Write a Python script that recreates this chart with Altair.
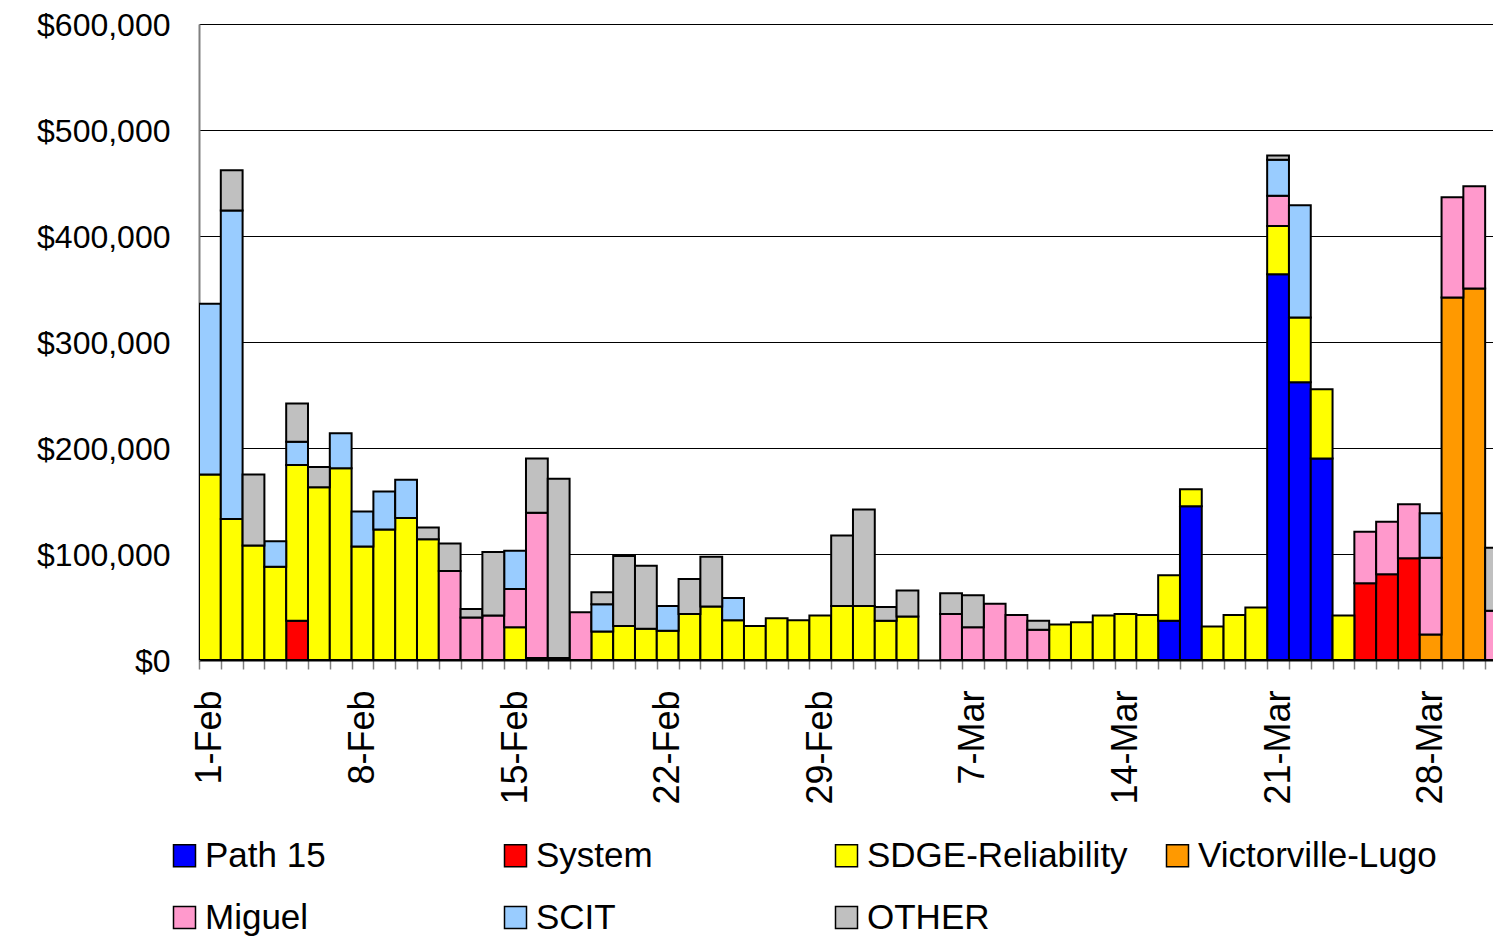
import json
import altair as alt
import pandas as pd

# ---- categories (days) ----
days = [
    "1-Feb", "2-Feb", "3-Feb", "4-Feb", "5-Feb", "6-Feb", "7-Feb", "8-Feb", "9-Feb", "10-Feb",
    "11-Feb", "12-Feb", "13-Feb", "14-Feb", "15-Feb", "16-Feb", "17-Feb", "18-Feb", "19-Feb", "20-Feb",
    "21-Feb", "22-Feb", "23-Feb", "24-Feb", "25-Feb", "26-Feb", "27-Feb", "28-Feb", "29-Feb", "1-Mar",
    "2-Mar", "3-Mar", "4-Mar", "5-Mar", "6-Mar", "7-Mar", "8-Mar", "9-Mar", "10-Mar", "11-Mar",
    "12-Mar", "13-Mar", "14-Mar", "15-Mar", "16-Mar", "17-Mar", "18-Mar", "19-Mar", "20-Mar", "21-Mar",
    "22-Mar", "23-Mar", "24-Mar", "25-Mar", "26-Mar", "27-Mar", "28-Mar", "29-Mar", "30-Mar", "31-Mar",
]
tick_labels = ["1-Feb", "8-Feb", "15-Feb", "22-Feb", "29-Feb", "7-Mar", "14-Mar", "21-Mar", "28-Mar"]

series_names = ["Path 15", "System", "SDGE-Reliability", "Victorville-Lugo", "Miguel", "SCIT", "OTHER"]
series_colors = ["#0000FF", "#FF0000", "#FFFF00", "#FF9900", "#FF99CC", "#99CCFF", "#C0C0C0"]

# ---- values, in $ thousands, one entry per day ----
path15 = [0, 0, 0, 0, 0, 0, 0, 0, 0, 0,
          0, 0, 0, 0, 0, 0, 0, 0, 0, 0,
          0, 0, 0, 0, 0, 0, 0, 0, 0, 0,
          0, 0, 0, 0, 0, 0, 0, 0, 0, 0,
          0, 0, 0, 0, 37, 145, 0, 0, 0, 364,
          262, 190, 0, 0, 0, 0, 0, 0, 0, 0]
system = [0, 0, 0, 0, 37, 0, 0, 0, 0, 0,
          0, 0, 0, 0, 0, 2, 2, 0, 0, 0,
          0, 0, 0, 0, 0, 0, 0, 0, 0, 0,
          0, 0, 0, 0, 0, 0, 0, 0, 0, 0,
          0, 0, 0, 0, 0, 0, 0, 0, 0, 0,
          0, 0, 0, 72.5, 81, 96, 0, 0, 0, 0]
sdge = [175, 133, 108, 88, 147, 163, 181, 107, 123, 134,
        114, 0, 0, 0, 31, 0, 0, 0, 27, 32,
        29.5, 27.5, 43.5, 50.5, 37.5, 32, 39.5, 37.5, 42, 51,
        51, 37, 41, 0, 0, 0, 0, 0, 0, 33.5,
        35.5, 42, 43.5, 42.5, 43, 16, 31.5, 42.5, 49.5, 45.5,
        61, 65.5, 42, 0, 0, 0, 0, 0, 0, 0]
victorville = [0, 0, 0, 0, 0, 0, 0, 0, 0, 0,
               0, 0, 0, 0, 0, 0, 0, 0, 0, 0,
               0, 0, 0, 0, 0, 0, 0, 0, 0, 0,
               0, 0, 0, 0, 0, 0, 0, 0, 0, 0,
               0, 0, 0, 0, 0, 0, 0, 0, 0, 0,
               0, 0, 0, 0, 0, 0, 24, 342, 350.5, 0]
miguel = [0, 0, 0, 0, 0, 0, 0, 0, 0, 0,
          0, 84, 40, 42, 36, 137, 0, 45, 0, 0,
          0, 0, 0, 0, 0, 0, 0, 0, 0, 0,
          0, 0, 0, 0, 43.5, 31, 53, 42.5, 28.5, 0,
          0, 0, 0, 0, 0, 0, 0, 0, 0, 28.5,
          0, 0, 0, 48.5, 49.5, 51, 72.5, 94.5, 96.5, 46.5]
scit = [161, 291, 0, 24, 22, 0, 33, 33, 36, 36,
        0, 0, 0, 0, 36, 0, 0, 0, 25.5, 0,
        0, 23.5, 0, 0, 21, 0, 0, 0, 0, 0,
        0, 0, 0, 0, 0, 0, 0, 0, 0, 0,
        0, 0, 0, 0, 0, 0, 0, 0, 0, 34,
        106, 0, 0, 0, 0, 0, 42, 0, 0, 0]
other = [0, 38, 67, 0, 36, 19, 0, 0, 0, 0,
         11, 26, 8, 60, 0, 51, 169, 0, 11.5, 66,
         59.5, 0, 33, 47, 0, 0, 0, 0, 0, 66.5,
         91, 13, 24.5, 0, 19.5, 30, 0, 0, 8.5, 0,
         0, 0, 0, 0, 0, 0, 0, 0, 0, 4,
         0, 0, 0, 0, 0, 0, 0, 0, 0, 59.5]

series_values = [path15, system, sdge, victorville, miguel, scit, other]

rows = []
for rank, (name, vals) in enumerate(zip(series_names, series_values)):
    for i, (d, v) in enumerate(zip(days, vals)):
        rows.append({"idx": i, "day": d, "series": name, "rank": rank, "value": v * 1000})
df = pd.DataFrame(rows)

# label lookup for the x axis (ticks sit on day boundaries)
shown = [d if d in tick_labels else "" for d in days]
label_expr = json.dumps(shown) + "[round(datum.value + 0.5)]"
tick_values = [i - 0.5 for i in range(len(days))]

FONT = "Liberation Sans"

chart = (
    alt.Chart(df)
    .transform_filter("datum.value > 0")
    .transform_stack(
        stack="value",
        as_=["v0", "v1"],
        groupby=["idx"],
        sort=[alt.SortField("rank", order="ascending")],
        offset="zero",
    )
    .transform_calculate(x0="datum.idx - 0.5", x1="datum.idx + 0.5")
    .mark_bar(clip=True, stroke="black", strokeWidth=2)
    .encode(
        x=alt.X(
            "x0:Q",
            scale=alt.Scale(domain=[-0.5, 58.86], nice=False, zero=False),
            axis=alt.Axis(
                values=tick_values,
                labelExpr=label_expr,
                labelAngle=270,
                labelAlign="right",
                labelBaseline="middle",
                labelOffset=10.9,
                labelFlush=False,
                labelOverlap=False,
                labelFontSize=36,
                labelFont=FONT,
                labelColor="black",
                labelPadding=21,
                tickSize=9,
                tickColor="#808080",
                tickWidth=1.5,
                domainColor="black",
                domainWidth=2,
                grid=False,
                title=None,
            ),
        ),
        x2="x1:Q",
        y=alt.Y(
            "v0:Q",
            scale=alt.Scale(domain=[0, 600000], nice=False),
            axis=alt.Axis(
                values=[0, 100000, 200000, 300000, 400000, 500000, 600000],
                format="$,.0f",
                labelFontSize=32,
                labelFont=FONT,
                labelColor="black",
                labelPadding=29,
                labelOffset=1.5,
                ticks=False,
                domainColor="#808080",
                domainWidth=2,
                grid=True,
                gridColor="black",
                gridWidth=1,
                title=None,
            ),
        ),
        y2="v1:Q",
        color=alt.Color(
            "series:N",
            scale=alt.Scale(domain=series_names, range=series_colors),
            legend=alt.Legend(
                title=None,
                orient="none",
                legendX=-32,
                legendY=814,
                direction="horizontal",
                columns=4,
                gridAlign="all",
                symbolType="square",
                symbolSize=484,
                symbolStrokeColor="black",
                symbolStrokeWidth=1.5,
                labelFontSize=35,
                labelFont=FONT,
                labelColor="black",
                labelOffset=3,
                labelLimit=0,
                columnPadding=32,
                rowPadding=26,
                padding=0,
            ),
        ),
    )
    .properties(
        width=1294,
        height=636,
        padding={"left": 191, "top": 16, "right": 0, "bottom": 276},
        autosize=alt.AutoSizeParams(type="none"),
    )
    .configure_view(strokeWidth=0)
)

chart.save("out.html", embed_options={"renderer": "svg", "actions": False})
